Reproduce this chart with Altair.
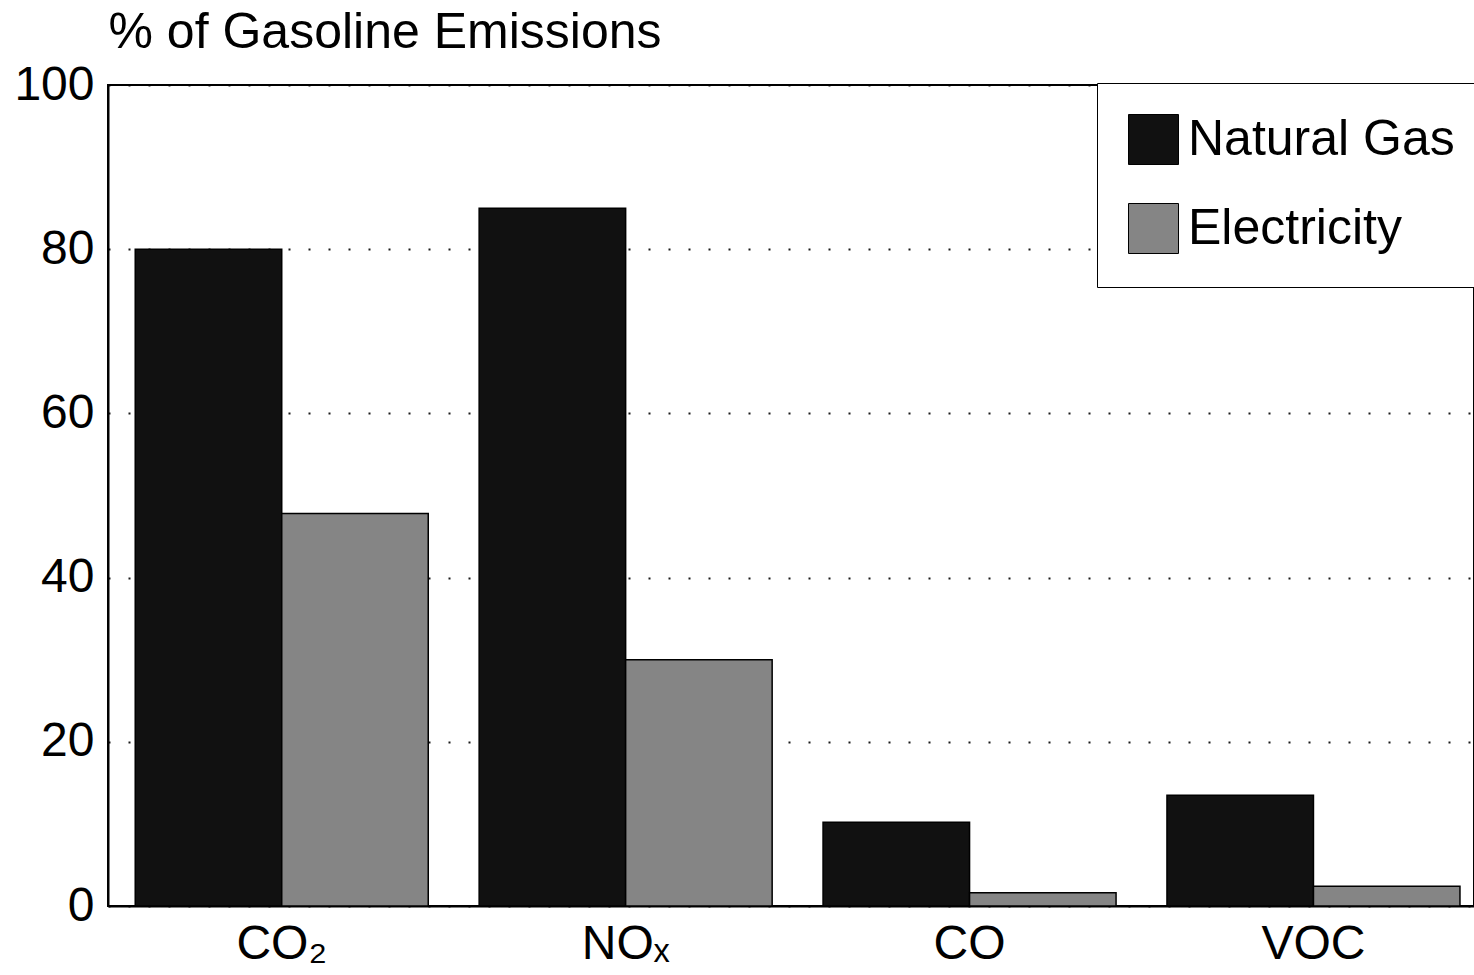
import altair as alt
import pandas as pd

categories = ["CO₂", "NOₓ", "CO", "VOC"]
series_names = ["Natural Gas", "Electricity"]
natural_gas = [80, 85, 10.2, 13.5]
electricity = [47.8, 30, 1.6, 2.4]
y_ticks = [0, 20, 40, 60, 80, 100]

rows = []
for c, ng, el in zip(categories, natural_gas, electricity):
    rows.append({"pollutant": c, "fuel": series_names[0], "pct": ng})
    rows.append({"pollutant": c, "fuel": series_names[1], "pct": el})
df = pd.DataFrame(rows)

FONT = "Liberation Sans"

bars = alt.Chart(df).mark_bar(stroke="black", strokeWidth=1.5).encode(
    x=alt.X("pollutant:N", sort=categories,
            scale=alt.Scale(paddingInner=0.148, paddingOuter=0.06, align=0.66),
            axis=alt.Axis(title=None, labelAngle=0, labelFontSize=48, labelFont=FONT,
                          labelColor="black", labelPadding=14, ticks=False,
                          domainColor="black", domainWidth=2, labelBaseline="top")),
    xOffset=alt.XOffset("fuel:N", sort=series_names, scale=alt.Scale(paddingInner=0, paddingOuter=0)),
    y=alt.Y("pct:Q", scale=alt.Scale(domain=[0, 100], nice=False),
            axis=alt.Axis(title="% of Gasoline Emissions", titleAngle=0, titleX=0, titleY=-38,
                          titleAlign="left", titleBaseline="alphabetic", titleFontSize=50,
                          titleFont=FONT, titleFontWeight="normal", titleColor="black",
                          values=y_ticks, labelFontSize=48, labelFont=FONT,
                          labelColor="black", labelPadding=14, ticks=False,
                          domainColor="black", domainWidth=2,
                          grid=True, gridColor="black", gridDash=[2, 18], gridWidth=2,
                          gridOpacity=0.9)),
    color=alt.Color("fuel:N", sort=series_names,
                    scale=alt.Scale(domain=series_names, range=["#111111", "#858585"]),
                    legend=alt.Legend(title=None, orient="none", legendX=989, legendY=-2,
                                      symbolType="square", symbolSize=2500,
                                      symbolStrokeColor="black", symbolStrokeWidth=1,
                                      labelFontSize=50, labelFont=FONT, labelColor="black",
                                      labelOffset=9, rowPadding=34, padding=31,
                                      fillColor="white", strokeColor="black",
                                      labelLimit=400)),
)

chart = bars.properties(
    width=1366,
    height=821,
    background="white",
    padding={"left": 108, "top": 85, "right": 0, "bottom": 69},
    autosize=alt.AutoSizeParams(type="none"),
).configure_view(stroke="black", strokeWidth=2)

chart.save("out.html", embed_options={"renderer": "svg", "actions": False})
